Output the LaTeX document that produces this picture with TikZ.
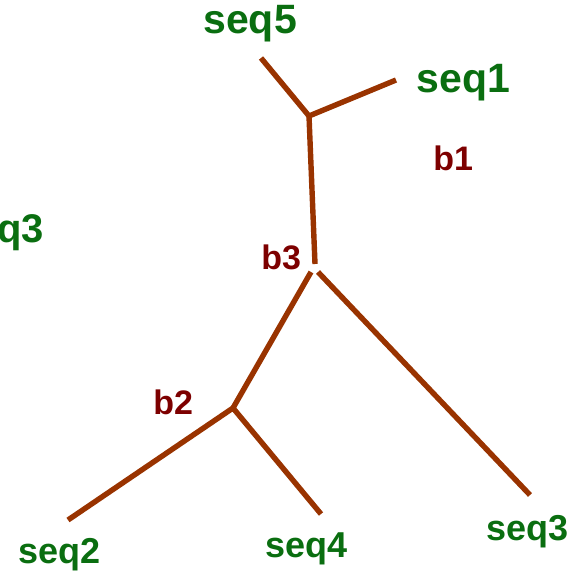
\documentclass[tikz,border=0pt]{standalone}
\usepackage{fontspec}
\setmainfont{Liberation Sans}
\definecolor{leafgreen}{RGB}{10,110,16}
\definecolor{splitred}{RGB}{125,0,0}
\definecolor{branch}{RGB}{153,51,0}
\tikzset{
    leaf/.style={text=leafgreen, font=\bfseries\fontsize{18}{18}\selectfont, anchor=base west, inner sep=0pt},
    split/.style={text=splitred, font=\bfseries\fontsize{17}{17}\selectfont, anchor=base west, inner sep=0pt},
    edge/.style={draw=branch, line width=2.7pt}
}
\begin{document}
\begin{tikzpicture}[x=0.5pt, y=-0.5pt]
        \useasboundingbox (0,0) rectangle (577,573);

        \coordinate (top) at (309,116);
        \coordinate (mid) at (315,264);
        \coordinate (midl) at (311,272);
        \coordinate (midr) at (318,272);
        \coordinate (low) at (233,408);

        \coordinate (e5) at (261,58);
        \coordinate (e1) at (396,80);
        \coordinate (e2) at (68,520);
        \coordinate (e4) at (321,514);
        \coordinate (e3) at (530,495);

        \draw[edge] (e5) -- (top) -- (e1);
        \draw[edge] (top) -- (mid);
        \draw[edge] (midl) -- (low);
        \draw[edge] (midr) -- (e3);
        \draw[edge] (e2) -- (low) -- (e4);

        \node[leaf, font=\bfseries\fontsize{20.5}{20.5}\selectfont] (seq5) at (203,33) {seq5};
        \node[leaf, font=\bfseries\fontsize{20.5}{20.5}\selectfont] (seq1) at (416,92) {seq1};
        \node[leaf] (seq2) at (18,563) {seq2};
        \node[leaf] (seq4) at (265,557) {seq4};
        \node[leaf] (seq3) at (486,540) {seq3};
        \node[leaf, font=\bfseries\fontsize{20}{20}\selectfont] (cut) at (-3,242) {q3};

        \node[split] (b1) at (433,170) {b1};
        \node[split] (b3) at (261,269) {b3};
        \node[split] (b2) at (153,414) {b2};
    \end{tikzpicture}
\end{document}
